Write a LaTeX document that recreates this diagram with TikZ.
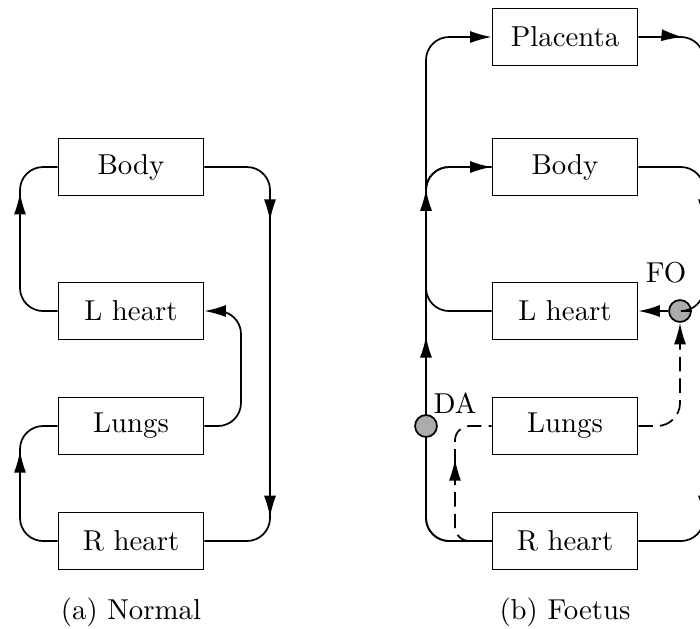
\documentclass[tikz,border=0pt]{standalone}
\usetikzlibrary{arrows.meta,decorations.markings,calc}
\begin{document}
\begin{tikzpicture}[x=0.3472pt,y=-0.3472pt, line width=0.6pt,
  organ/.style={draw, minimum width=50.35pt, minimum height=19.8pt, inner sep=0pt},
  shunt/.style={draw, circle, fill=gray!65, minimum size=7.6pt, inner sep=0pt},
  flow/.style={rounded corners=8pt},
  tip/.style={-{Latex[length=7.5pt,width=4.2pt]}},
  midarrow/.style={postaction={decorate,decoration={markings,
      mark=at position #1 with {\arrow{Latex[length=7.5pt,width=4.2pt]}}}}},
  minor/.style={dash pattern=on 5pt off 2.5pt}
]
\clip (0,0) rectangle (700,628);

% ---------- (a) Normal circulation ----------
\node[organ] (nB) at (131,167) {Body};
\node[organ] (nL) at (131,311) {L heart};
\node[organ] (nU) at (131,426) {Lungs};
\node[organ] (nR) at (131,541) {R heart};
\coordinate (nxl) at (20,0);
\coordinate (nxi) at (241,0);
\coordinate (nxo) at (270,0);

\draw[flow, midarrow=-18.6pt]
  (nL.west) -- (nL.west -| nxl) -- (nB.west -| nxl) -- (nB.west);
\draw[flow, midarrow=38.1pt, midarrow=-27.6pt]
  (nB.east) -- (nB.east -| nxo) -- (nR.east -| nxo) -- (nR.east);
\draw[flow, midarrow=-18.3pt]
  (nR.west) -- (nR.west -| nxl) -- (nU.west -| nxl) -- (nU.west);
\draw[flow, tip]
  (nU.east) -- (nU.east -| nxi) -- (nL.east -| nxi) -- (nL.east);

\node (capA) at (131,612) {(a) Normal};

% ---------- (b) Foetal circulation ----------
\node[organ] (fP) at (565,37) {Placenta};
\node[organ] (fB) at (565,167) {Body};
\node[organ] (fL) at (565,311) {L heart};
\node[organ] (fU) at (565,426) {Lungs};
\node[organ] (fR) at (565,541) {R heart};
\node[shunt] (FO) at (680,311) {};
\coordinate (fxl) at (426,0);
\coordinate (fxd) at (455,0);
\coordinate (fxo) at (704,0);

% main trunk from the right heart up to placenta and body
\draw[flow, tip, midarrow=90.5pt, midarrow=141.5pt]
  (fR.west) -- (fR.west -| fxl) -- (fP.west -| fxl) -- (fP.west);
\draw[flow, tip]
  (fR.west) -- (fR.west -| fxl) -- (fB.west -| fxl) -- (fB.west);
\draw[flow]
  (fL.west) -- (fL.west -| fxl) -- (fB.west -| fxl) -- (fB.west);

% pulmonary route (minor flow)
\draw[minor, rounded corners=5pt, midarrow=39pt]
  (fR.west) -- (fR.west -| fxd) -- (fU.west -| fxd) -- (fU.west);
\draw[minor, flow, tip]
  (fU.east) -- (fU.east -| FO) -- (FO.south);

% return from placenta and body
\draw[flow, midarrow=15.5pt]
  (fP.east) -- (fP.east -| fxo) -- (FO.east -| fxo) -- (FO.east);
\draw[flow, midarrow=38.1pt, midarrow=-27.6pt]
  (fB.east) -- (fB.east -| fxo) -- (fR.east -| fxo) -- (fR.east);
\draw[tip] (FO.west) -- (fL.east);

\node[shunt] (DA) at (426,426) {};
\node (lblDA) at ([shift={(29,-23)}]DA.center) {DA};
\node (lblFO) at ([shift={(-14,-38)}]FO.center) {FO};

\node (capB) at (565,612) {(b) Foetus};
\end{tikzpicture}
\end{document}
